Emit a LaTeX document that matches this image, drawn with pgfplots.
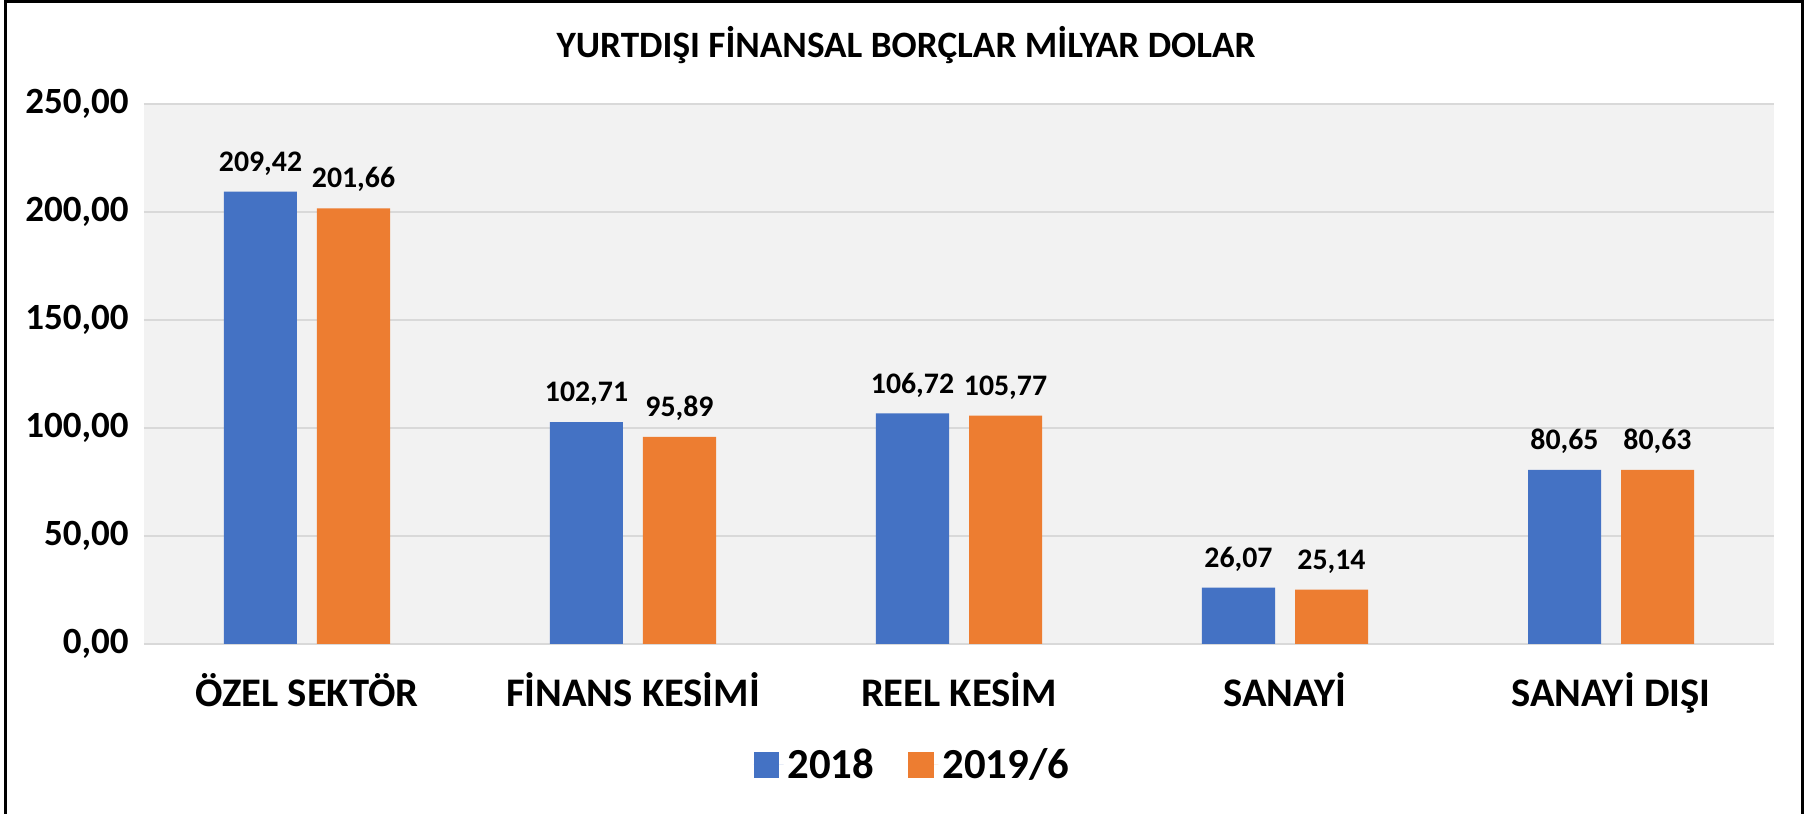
\documentclass[border=0pt]{standalone}
\usepackage{fontspec}
\setmainfont{Carlito}
\usepackage{pgfplots}
\pgfplotsset{compat=1.18}
\definecolor{blu}{HTML}{4472C4}
\definecolor{ora}{HTML}{ED7D31}
\definecolor{bgc}{HTML}{F2F2F2}
\definecolor{grd}{HTML}{D9D9D9}
\pgfplotsset{sq legend/.style={legend image code/.code={\fill[##1] (0pt,-6.35pt) rectangle (12.7pt,6.35pt); \path (0pt,0pt) -- (15pt,0pt);}}}
\begin{document}
\begin{tikzpicture}
\useasboundingbox (0,0) rectangle (906pt,407pt);
\draw[line width=1.5pt] (2.5pt,-2pt) -- (2.5pt,406pt) -- (901pt,406pt) -- (901pt,-2pt);
\node[font=\bfseries\fontsize{18.6}{21}\selectfont] at (453pt,384.5pt) {YURTDIŞI FİNANSAL BORÇLAR MİLYAR DOLAR};
\begin{axis}[
    at={(72pt,85pt)}, anchor=south west,
    scale only axis, width=815pt, height=270pt,
    ybar=10pt, bar width=36.5pt,
    xmin=-0.5, xmax=4.5, ymin=0, ymax=250,
    xtick=data,
    xticklabels={ÖZEL SEKTÖR, FİNANS KESİMİ, REEL KESİM, SANAYİ, SANAYİ DIŞI},
    ytick={0,50,...,250},
    ymajorgrids, grid style={grd, line width=0.8pt},
    axis background/.style={fill=bgc},
    axis line style={draw=none},
    major tick length=0pt,
    /pgf/number format/.cd, fixed, fixed zerofill, precision=2, use comma, assume math mode=true,
    /pgfplots/.cd,
    yticklabel style={font=\bfseries\fontsize{18.5}{20}\selectfont, anchor=east, inner sep=0pt, xshift=-7.5pt},
    xticklabel style={font=\bfseries\fontsize{20.3}{22}\selectfont, anchor=base, inner sep=0pt, yshift=-31.5pt},
    nodes near coords,
    every node near coord/.append style={font=\bfseries\fontsize{14.9}{16}\selectfont, anchor=south, inner sep=0pt, yshift=8pt},
    legend style={at={(0.472,-0.224)}, anchor=center, draw=none, fill=none,
        legend columns=2, font=\bfseries\fontsize{21.4}{24}\selectfont,
        /tikz/every even column/.append style={column sep=15pt}},
]
\addplot[fill=blu, draw=none, sq legend] coordinates {
(0,209.42) (1,102.71) (2,106.72) (3,26.07) (4,80.65)
};
\addplot[fill=ora, draw=none, sq legend] coordinates {
(0,201.66) (1,95.89) (2,105.77) (3,25.14) (4,80.63)
};
\legend{2018, 2019/6}
\end{axis}
\end{tikzpicture}
\end{document}
